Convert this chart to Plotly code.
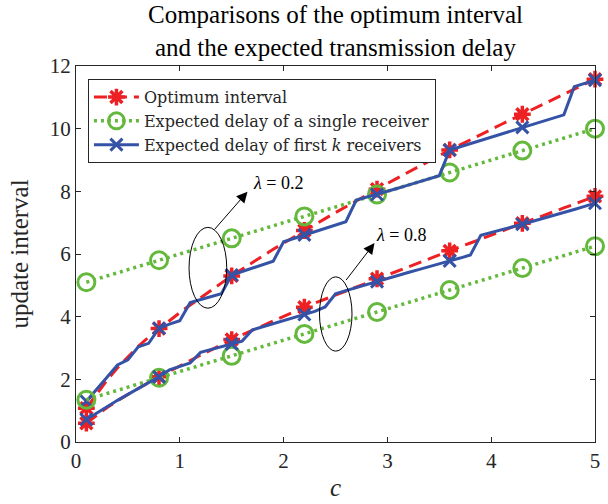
import plotly.graph_objects as go

# ---------------- data ----------------
c = [0.1, 0.2, 0.3, 0.4, 0.5, 0.6, 0.7, 0.8, 0.9, 1.0,
     1.1, 1.2, 1.3, 1.4, 1.5, 1.6, 1.7, 1.8, 1.9, 2.0,
     2.1, 2.2, 2.3, 2.4, 2.5, 2.6, 2.7, 2.8, 2.9, 3.0,
     3.1, 3.2, 3.3, 3.4, 3.5, 3.6, 3.7, 3.8, 3.9, 4.0,
     4.1, 4.2, 4.3, 4.4, 4.5, 4.6, 4.7, 4.8, 4.9, 5.0]

# lambda = 0.2
opt_l02 = [1.08, 1.55, 1.98, 2.37, 2.72, 3.05, 3.35, 3.62, 3.88, 4.13,
           4.37, 4.61, 4.84, 5.07, 5.30, 5.52, 5.73, 5.94, 6.15, 6.35,
           6.55, 6.75, 6.94, 7.13, 7.32, 7.51, 7.70, 7.89, 8.07, 8.25,
           8.43, 8.61, 8.79, 8.97, 9.15, 9.32, 9.48, 9.65, 9.81, 9.97,
           10.14, 10.30, 10.46, 10.62, 10.78, 10.94, 11.10, 11.26, 11.42, 11.58]
firstk_l02 = [1.30, 1.69, 2.07, 2.46, 2.62, 3.04, 3.15, 3.63, 3.76, 3.87,
              4.45, 4.55, 4.64, 4.73, 5.33, 5.44, 5.55, 5.66, 5.77, 6.39,
              6.50, 6.61, 6.72, 6.82, 6.93, 7.03, 7.72, 7.81, 7.90, 8.00,
              8.10, 8.20, 8.30, 8.40, 8.50, 9.32, 9.42, 9.52, 9.62, 9.72,
              9.82, 9.93, 10.04, 10.14, 10.24, 10.34, 10.44, 11.34, 11.45, 11.55]

# lambda = 0.8
opt_l08 = [0.60, 0.86, 1.10, 1.32, 1.52, 1.72, 1.90, 2.08, 2.26, 2.43,
           2.60, 2.77, 2.94, 3.11, 3.27, 3.42, 3.57, 3.71, 3.86, 4.01,
           4.15, 4.30, 4.43, 4.56, 4.69, 4.82, 4.95, 5.08, 5.21, 5.34,
           5.46, 5.59, 5.72, 5.84, 5.97, 6.10, 6.23, 6.35, 6.48, 6.60,
           6.73, 6.85, 6.98, 7.10, 7.23, 7.35, 7.47, 7.59, 7.72, 7.84]
firstk_l08 = [0.72, 0.93, 1.13, 1.33, 1.52, 1.70, 1.88, 2.08, 2.30, 2.42,
              2.52, 2.86, 2.95, 3.04, 3.13, 3.22, 3.58, 3.68, 3.78, 3.88,
              3.97, 4.07, 4.17, 4.31, 4.73, 4.83, 4.93, 5.03, 5.12, 5.21,
              5.31, 5.41, 5.50, 5.60, 5.69, 5.78, 5.87, 5.97, 6.60, 6.68,
              6.77, 6.86, 6.95, 7.04, 7.13, 7.23, 7.33, 7.42, 7.52, 7.62]

# single receiver (marker points)
c_mk = [0.1, 0.8, 1.5, 2.2, 2.9, 3.6, 4.3, 5.0]
single_l02 = [5.10, 5.80, 6.50, 7.20, 7.90, 8.60, 9.30, 10.00]
single_l08 = [1.35, 2.05, 2.75, 3.45, 4.15, 4.85, 5.55, 6.25]

series_names = ["Optimum interval",
                "Expected delay of a single receiver",
                "Expected delay of first <i>k</i> receivers"]
x_ticks = [0, 1, 2, 3, 4, 5]
y_ticks = [0, 2, 4, 6, 8, 10, 12]
title_text = "Comparisons of the optimum interval<br>and the expected transmission delay"

# ---------------- styles ----------------
RED = "rgb(237,32,36)"
GREEN = "rgb(100,185,60)"
BLUE = "rgb(52,82,166)"
FONT = "Liberation Serif"
AX = "#262626"

red_line = dict(color=RED, width=3, dash="13px,7px")
green_line = dict(color=GREEN, width=3.5, dash="3px,4px")
blue_line = dict(color=BLUE, width=3)
red_mk = dict(symbol="asterisk-open", size=14, color=RED, line=dict(color=RED, width=3.5))
green_mk = dict(symbol="circle-open", size=17, color=GREEN, line=dict(color=GREEN, width=3))
blue_mk = dict(symbol="x-thin-open", size=12, color=BLUE, line=dict(color=BLUE, width=3))

idx = list(range(0, len(c), 7))

fig = go.Figure()

def add(xl, yl, xm, ym, line, mk):
    fig.add_trace(go.Scatter(x=xl, y=yl, mode="lines", line=line,
                             showlegend=False, hoverinfo="skip", cliponaxis=False))
    fig.add_trace(go.Scatter(x=xm, y=ym, mode="markers", marker=mk,
                             showlegend=False, hoverinfo="skip", cliponaxis=False))

for opt, single, fk in [(opt_l02, single_l02, firstk_l02), (opt_l08, single_l08, firstk_l08)]:
    add(c, opt, [c[i] for i in idx], [opt[i] for i in idx], red_line, red_mk)
    add(c_mk, single, c_mk, single, green_line, green_mk)
    add(c, fk, [c[i] for i in idx], [fk[i] for i in idx], blue_line, blue_mk)

# legend entries
for name, line, mk in zip(series_names, [red_line, green_line, blue_line], [red_mk, green_mk, blue_mk]):
    fig.add_trace(go.Scatter(x=[None], y=[None], mode="lines+markers", name=name,
                             line=line, marker=mk))

# ellipses
fig.add_shape(type="circle", xref="x", yref="y", x0=1.089, x1=1.452, y0=4.27, y1=6.85,
              line=dict(color="black", width=1))
fig.add_shape(type="circle", xref="x", yref="y", x0=2.346, x1=2.659, y0=2.90, y1=5.27,
              line=dict(color="black", width=1))

# arrows
for (hx, hy, tx, ty) in [(1.652, 7.99, 1.323, 6.74), (2.876, 6.35, 2.591, 5.12)]:
    fig.add_annotation(x=hx, y=hy, ax=tx, ay=ty, xref="x", yref="y", axref="x", ayref="y",
                       text="", showarrow=True, arrowhead=2, arrowsize=2.2, arrowwidth=1,
                       arrowcolor="black")

fig.add_annotation(x=1.946, y=8.27, xref="x", yref="y", text="<i>λ</i> = 0.2", showarrow=False,
                   font=dict(family=FONT, size=18, color="black"))
fig.add_annotation(x=3.131, y=6.61, xref="x", yref="y", text="<i>λ</i> = 0.8", showarrow=False,
                   font=dict(family=FONT, size=18, color="black"))

# title (two lines, centred over the axes)
fig.add_annotation(x=0.5, y=1 + 35 / 376, xref="paper", yref="paper", text=title_text,
                   showarrow=False, xanchor="center", yanchor="middle",
                   font=dict(family=FONT, size=25, color="black"))

axis_common = dict(showgrid=False, zeroline=False, showline=True, linecolor=AX, linewidth=1,
                   mirror="ticks", ticks="inside", ticklen=5, tickcolor=AX, tickwidth=1,
                   automargin=False,
                   tickfont=dict(family=FONT, size=21, color=AX))

fig.update_layout(
    width=608, height=504,
    margin=dict(l=76, r=13, t=66, b=62, autoexpand=False),
    paper_bgcolor="white", plot_bgcolor="white",
    xaxis=dict(range=[0, 5], tickvals=x_ticks, ticktext=[str(v) for v in x_ticks],
               title=dict(text="<i>c</i>", font=dict(family=FONT, size=25, color=AX), standoff=6),
               **axis_common),
    yaxis=dict(range=[0, 12], tickvals=y_ticks, ticktext=[str(v) for v in y_ticks],
               title=dict(text="update interval", font=dict(family=FONT, size=25, color=AX), standoff=14),
               **axis_common),
    legend=dict(x=0.023, y=0.965, xanchor="left", yanchor="top",
                bgcolor="white", bordercolor=AX, borderwidth=1,
                font=dict(family="DejaVu Serif", size=16, color=AX), tracegroupgap=0,
                itemwidth=45),
    showlegend=True,
)

# remove the default page margin so the figure sits at the window's top-left corner
fig.write_html("out.html",
               config={"displayModeBar": False},
               post_script="document.body.style.margin='0px';document.body.style.overflow='hidden';")
